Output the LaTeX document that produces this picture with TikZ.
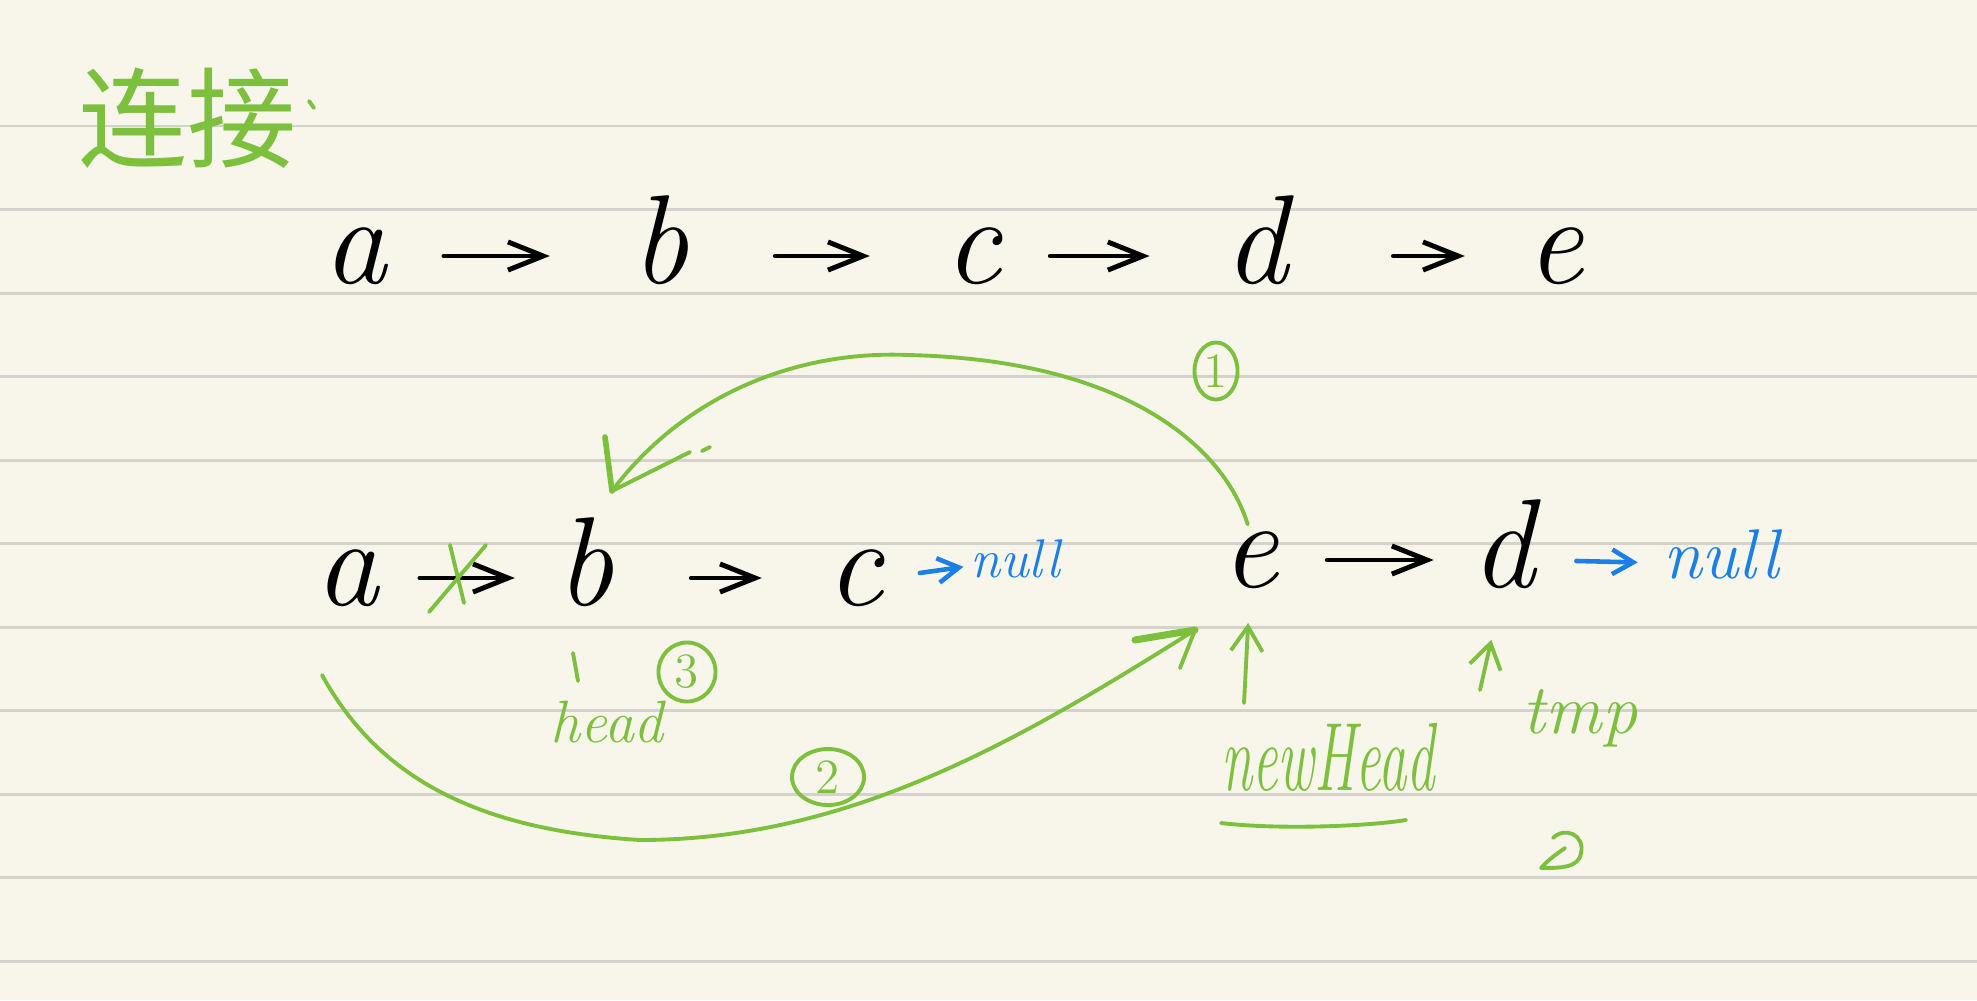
\documentclass[tikz,border=0pt]{standalone}
\usepackage{fontspec}
\newfontfamily\cjk{Noto Sans CJK SC}
\usetikzlibrary{arrows.meta,shapes.geometric}
\definecolor{grn}{HTML}{7CC03E}
\definecolor{blu}{HTML}{1A7FE8}
\definecolor{paper}{HTML}{F8F6EA}
\definecolor{ruleln}{HTML}{D4D2CC}
\begin{document}
\begin{tikzpicture}[x=0.01cm,y=-0.01cm,
  letter/.style={inner sep=0pt, font=\fontsize{36}{40}\selectfont\itshape, text height=15.5pt, text depth=0pt},
  nulla/.style={inner sep=0pt, text=blu, font=\fontsize{15.5}{18}\selectfont\itshape, text height=6.7pt, text depth=0pt},
  nullb/.style={inner sep=0pt, text=blu, font=\fontsize{20}{24}\selectfont\itshape, text height=8.6pt, text depth=0pt},
  blk/.style={line width=1.4pt, line cap=round, line join=round, -{Straight Barb[length=10pt,width=8pt]}},
  bluarr/.style={blu, line width=1.3pt, line cap=round, line join=round, -{Straight Barb[length=6pt,width=7pt]}},
  gline/.style={grn, line width=1.1pt, line cap=round, line join=round},
  garrow/.style={gline, -{Straight Barb[length=7pt,width=9pt]}},
  num/.style={ellipse, draw=grn, line width=1.1pt, inner sep=0pt, text=grn, font=\fontsize{14}{16}\selectfont},
  glab/.style={inner sep=0pt, text=grn, anchor=base}
]
\fill[paper] (0,0) rectangle (1977,1000);
\useasboundingbox (0,0) rectangle (1977,1000);
% ruled lines
\foreach \yy in {126,209.5,293,376.5,460,543.5,627,710.5,794,877.5,961}
  \draw[ruleln, line width=0.85pt] (0,\yy) -- (1977,\yy);

% title
\node[anchor=west, text=grn, inner sep=0pt, font=\cjk\fontsize{31}{36}\selectfont] (title) at (78,118) {连接};
\draw[gline] (309,101) -- (314,108);

% row 1
\node[letter] (a1) at (355,256) {a};
\node[letter] (b1) at (660,256) {b};
\node[letter] (c1) at (973,256) {c};
\node[letter] (d1) at (1256,256) {d};
\node[letter] (e1) at (1555,256) {e};
\draw[blk, shorten <=0.565cm, shorten >=0.81cm] (a1.east) -- (b1.west);
\draw[blk, shorten <=0.86cm, shorten >=0.74cm] (b1.east) -- (c1.west);
\draw[blk, shorten <=0.48cm, shorten >=0.74cm] (c1.east) -- (d1.west);
\draw[blk, shorten <=1.05cm, shorten >=0.61cm] (d1.east) -- (e1.west);

% row 2
\node[letter] (a2) at (347,578) {a};
\node[letter] (b2) at (585,578) {b};
\node[letter] (c2) at (855,578) {c};
\node[nulla] (n1) at (1015,566) {null};
\node[letter] (e2) at (1250,560) {e};
\node[letter] (d2) at (1503,560) {d};
\node[nullb] (n2) at (1721,563) {null};
\draw[blk, shorten <=0.405cm, shorten >=0.41cm] (a2.east) -- (b2.west);
\draw[blk, shorten <=0.77cm, shorten >=0.64cm] (b2.east) -- (c2.west);
\draw[bluarr, shorten <=0.36cm, shorten >=0.06cm] (c2.east) -- (n1.west);
\draw[blk, shorten <=0.48cm, shorten >=0.37cm] (e2.east) -- (d2.west);
\draw[bluarr, shorten <=0.41cm, shorten >=0.245cm] (d2.east) -- (n2.west);

% cross over a->b
\draw[gline] (450,545) -- (464,603);
\draw[gline] (486,545) -- (429,612);

% curve 1: e -> b
\coordinate (t1) at (612,491);
\draw[gline, shorten <=0.08cm] (e2.north) .. controls (1225,450) and (1130,360) .. (908,355)
  .. controls (790,350) and (680,400) .. (t1);
\draw[gline, line width=1.6pt] (605,437) -- (t1);
\draw[gline] (t1) -- (690,452);
\draw[gline] (702,451) -- (710,447);
\node[num, minimum width=0.43cm, minimum height=0.57cm] (k1) at (1216,371) {1};

% curve 2: a -> e
\coordinate (s2) at (322,675);
\coordinate (t2) at (1195,630);
\draw[gline] (s2) .. controls (380,780) and (480,830) .. (640,840)
  .. controls (850,840) and (1020,740) .. (t2);
\draw[gline, line width=2pt] (1135,640) -- (t2);
\draw[gline] (1180,668) -- (t2);
\node[num, minimum width=0.72cm, minimum height=0.56cm] (k2) at (828,777) {2};

% head label
\node[num, minimum width=0.57cm, minimum height=0.59cm] (k3) at (687,672) {3};
\draw[gline] (573,653) -- (578,681);
\node[glab, font=\fontsize{17}{20}\selectfont\itshape] (hd) at (607,742) {head};

% newHead
\coordinate (nhA) at (1244,703);
\draw[garrow, shorten >=0.35cm] (nhA) -- (e2.south);
\node[glab, font=\fontsize{24}{28}\selectfont\itshape] (nh) at (1328,790) {\scalebox{0.67}[1.15]{newHead}};
\draw[gline] (1221,823) .. controls (1280,830) and (1370,826) .. (1406,820);

% tmp
\coordinate (tpA) at (1480,690);
\draw[garrow, shorten >=0.53cm] (tpA) -- (d2.south);
\node[glab, font=\fontsize{20}{24}\selectfont\itshape] (tp) at (1580,733) {tmp};
\draw[gline] (1553,838) .. controls (1565,826) and (1585,835) .. (1581,853)
  .. controls (1579,868) and (1560,868) .. (1541,868)
  .. controls (1548,860) and (1555,855) .. (1565,848);
\end{tikzpicture}
\end{document}
